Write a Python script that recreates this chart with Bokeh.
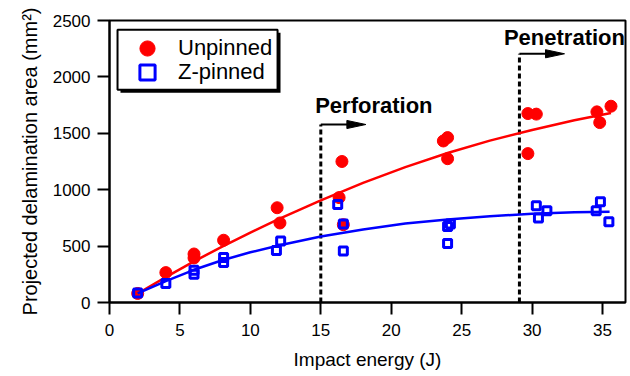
from bokeh.plotting import figure
from bokeh.models import Range1d, FixedTicker, BoxAnnotation, Legend, LegendItem, Label
from bokeh.embed import file_html
from bokeh.resources import INLINE

# ---- data ----
unpinned_x = [2.0, 4.0, 6.0, 6.0, 8.1, 11.9, 12.1, 16.3, 16.5, 16.6, 23.7, 24.0, 24.0, 29.7, 29.7, 30.3, 34.6, 34.8, 35.6]
unpinned_y = [80, 265, 430, 395, 552, 840, 705, 930, 1250, 690, 1432, 1462, 1275, 1675, 1320, 1670, 1690, 1595, 1740]

zpinned_x = [2.0, 4.0, 6.0, 6.0, 8.1, 8.1, 11.85, 12.15, 16.2, 16.6, 16.6, 24.0, 24.2, 24.0, 30.3, 30.45, 31.05, 34.55, 34.85, 35.45]
zpinned_y = [85, 168, 285, 250, 400, 355, 462, 546, 868, 697, 457, 673, 697, 522, 857, 750, 813, 813, 894, 716]

fit_unpinned_x = [2, 4, 6, 8, 10, 12, 15, 18, 21, 24, 27, 30, 33, 35.6]
fit_unpinned_y = [80, 225, 365, 495, 620, 740, 905, 1060, 1200, 1325, 1435, 1530, 1615, 1680]

fit_zpinned_x = [2, 4, 6, 8, 10, 12, 15, 18, 21, 24, 27, 30, 33, 35.5]
fit_zpinned_y = [80, 190, 290, 375, 445, 505, 585, 648, 700, 735, 765, 787, 800, 805]

x_ticks = [0, 5, 10, 15, 20, 25, 30, 35]
y_ticks = [0, 500, 1000, 1500, 2000, 2500]

zone_names = ["Perforation", "Penetration"]
zone_x = [15.0, 29.1]
zone_top = [1578, 2205]
zone_arrow_end = [18.2, 32.3]
zone_label_x = [14.6, 28.0]
zone_label_y = [1745, 2345]

FONT = "Liberation Sans"

p = figure(width=628, height=374,
           x_range=Range1d(0, 36.63), y_range=Range1d(0, 2500),
           output_backend="svg", toolbar_location=None,
           min_border_left=109, min_border_right=3,
           min_border_top=20, min_border_bottom=72)
p.grid.visible = False
p.outline_line_color = "black"
p.outline_line_width = 2
p.background_fill_color = "white"
p.border_fill_color = "white"

p.xaxis.ticker = FixedTicker(ticks=x_ticks)
p.yaxis.ticker = FixedTicker(ticks=y_ticks)
p.xaxis.axis_label = "Impact energy (J)"
p.yaxis.axis_label = "Projected delamination area (mm²)"
for ax in (p.xaxis, p.yaxis):
    ax.axis_line_width = 2
    ax.axis_line_color = "black"
    ax.major_tick_line_width = 2
    ax.major_tick_line_color = "black"
    ax.major_tick_in = 0
    ax.major_tick_out = 12
    ax.minor_tick_line_color = None
    ax.major_label_text_font = FONT
    ax.major_label_text_font_size = "17px"
    ax.major_label_text_color = "black"
    ax.axis_label_text_font = FONT
    ax.axis_label_text_font_style = "normal"
    ax.axis_label_text_color = "black"
p.xaxis.major_label_standoff = 9
p.yaxis.major_label_standoff = 7
p.xaxis.axis_label_text_font_size = "19px"
p.yaxis.axis_label_text_font_size = "20px"
p.xaxis.axis_label_standoff = 10
p.yaxis.axis_label_standoff = 9

# threshold lines and arrows
p.segment(x0=zone_x, y0=[0] * len(zone_x), x1=zone_x, y1=zone_top,
          line_color="black", line_width=3, line_dash="5 3")
head_len = 1.35
head_half = 36
shaft_end = [e - head_len + 0.1 for e in zone_arrow_end]
p.segment(x0=zone_x, y0=zone_top, x1=shaft_end, y1=zone_top, line_color="black", line_width=2)
p.patches(xs=[[e - head_len, e, e - head_len] for e in zone_arrow_end],
          ys=[[t - head_half, t, t + head_half] for t in zone_top],
          fill_color="black", line_color="black", line_width=1)
for name, lx, ly in zip(zone_names, zone_label_x, zone_label_y):
    p.add_layout(Label(x=lx, y=ly, text=name, text_font=FONT, text_font_style="bold",
                       text_font_size="22px", text_color="black",
                       text_baseline="alphabetic", text_align="left"))

# data
r_red = p.scatter(unpinned_x, unpinned_y, marker="circle", size=12,
                  fill_color="#ff0000", line_color="#ff0000", line_width=1)
p.line(fit_unpinned_x, fit_unpinned_y, line_color="#ff0000", line_width=2.5)
r_blue = p.scatter(zpinned_x, zpinned_y, marker="square", size=8,
                   fill_color=None, line_color="#0000ff", line_width=3)
p.line(fit_zpinned_x, fit_zpinned_y, line_color="#0000ff", line_width=2.5)

# legend box with shadow
p.add_layout(BoxAnnotation(left=0.78, right=12.14, top=2391, bottom=1859,
                           fill_color="black", fill_alpha=1, line_color=None))
p.add_layout(BoxAnnotation(left=0.57, right=11.93, top=2418, bottom=1886,
                           fill_color="white", fill_alpha=1, line_color="black",
                           line_width=2, line_alpha=1))
legend_rows = [("Unpinned", r_red, 235), ("Z-pinned", r_blue, 211)]
for label, rend, vy in legend_rows:
    lg = Legend(items=[LegendItem(label=label, renderers=[rend])],
                location=(19, vy), padding=0, margin=0, spacing=0,
                glyph_width=38, glyph_height=38, label_standoff=12,
                label_text_font=FONT, label_text_font_size="22px",
                label_text_color="black",
                background_fill_alpha=0, border_line_alpha=0)
    p.add_layout(lg)

open("out.html", "w").write(file_html(p, INLINE))
